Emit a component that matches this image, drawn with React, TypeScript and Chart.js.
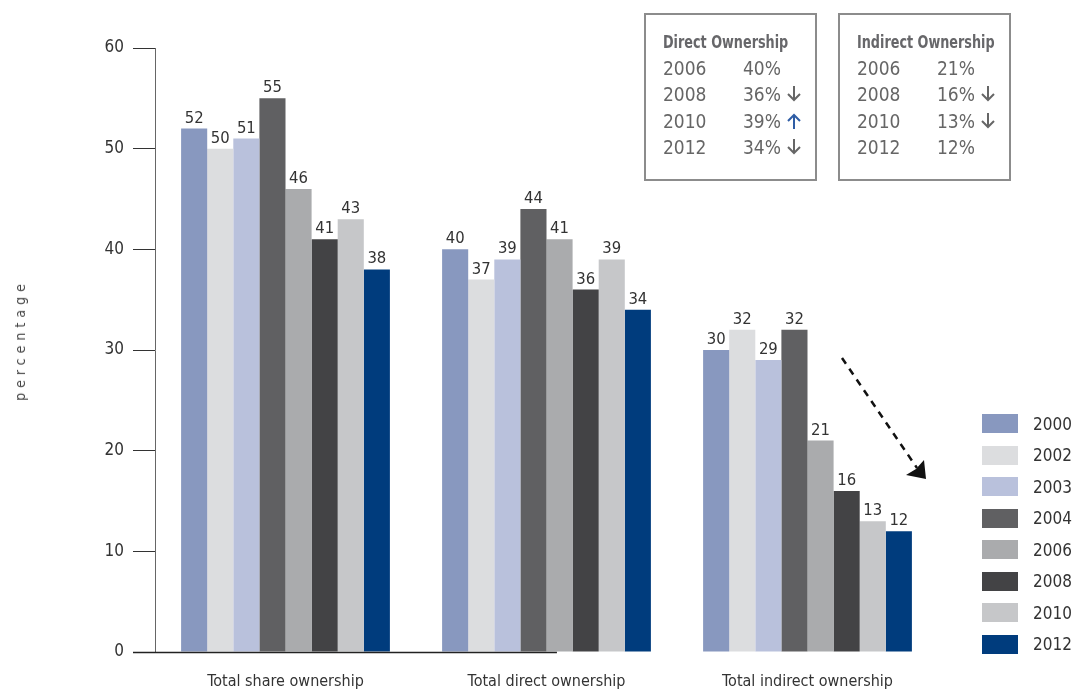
import React, { useEffect, useRef } from "react";
import { Chart, registerables } from "chart.js";

Chart.register(...registerables);

const categories = ["Total share ownership", "Total direct ownership", "Total indirect ownership"];
const years = ["2000", "2002", "2003", "2004", "2006", "2008", "2010", "2012"];
const s2000 = [52, 40, 30];
const s2002 = [50, 37, 32];
const s2003 = [51, 39, 29];
const s2004 = [55, 44, 32];
const s2006 = [46, 41, 21];
const s2008 = [41, 36, 16];
const s2010 = [43, 39, 13];
const s2012 = [38, 34, 12];
const seriesValues = [s2000, s2002, s2003, s2004, s2006, s2008, s2010, s2012];
const colors = ["#8898bf", "#dcdddf", "#b9c1dc", "#606062", "#aaabad", "#434345", "#c6c7c9", "#003c7d"];
const yTicks = [0, 10, 20, 30, 40, 50, 60];

const directYears = ["2006", "2008", "2010", "2012"];
const directValues = ["40%", "36%", "39%", "34%"];
const directTrend = ["", "down", "up", "down"];
const indirectYears = ["2006", "2008", "2010", "2012"];
const indirectValues = ["21%", "16%", "13%", "12%"];
const indirectTrend = ["", "down", "down", ""];

const FONT = "'Liberation Sans Narrow', 'DejaVu Sans Condensed', 'Roboto', sans-serif";

const labelPlugin = {
  id: "barLabels",
  afterDatasetsDraw(chart: any) {
    const ctx = chart.ctx;
    ctx.save();
    ctx.font = `16.5px ${FONT}`;
    ctx.fillStyle = "#333";
    ctx.textAlign = "center";
    ctx.textBaseline = "bottom";
    chart.data.datasets.forEach((ds: any, i: number) => {
      const meta = chart.getDatasetMeta(i);
      meta.data.forEach((bar: any, j: number) => {
        ctx.fillText(String(ds.data[j]), bar.x, bar.y - 2);
      });
    });
    ctx.restore();
  },
};

const axisPlugin = {
  id: "xAxisLine",
  afterDraw(chart: any) {
    const ctx = chart.ctx;
    const x = chart.scales.x;
    const y = chart.scales.y;
    const y0 = Math.round(y.getPixelForValue(0)) + 0.5;
    const end = x.getPixelForValue(1) + (x.getPixelForValue(2) - x.getPixelForValue(1)) * 0.04;
    ctx.save();
    ctx.strokeStyle = "#222";
    ctx.lineWidth = 1.5;
    ctx.beginPath();
    ctx.moveTo(chart.chartArea.left - 22, y0);
    ctx.lineTo(end, y0);
    ctx.stroke();
    ctx.restore();
  },
};

function Arrow({ dir }: { dir: string }) {
  if (!dir) return null;
  const color = dir === "up" ? "#2f5da5" : "#666";
  const path = dir === "up" ? "M8 17 V3 M2 9 L8 3 L14 9" : "M8 1 V15 M2 9 L8 15 L14 9";
  return (
    <svg width="16" height="18" style={{ marginLeft: 5, verticalAlign: "-2px" }}>
      <path d={path} stroke={color} strokeWidth="2" fill="none" />
    </svg>
  );
}

function InfoBox({ left, title, yrs, vals, trend }: any) {
  return (
    <div
      style={{
        position: "absolute",
        left,
        top: 13,
        width: 173,
        height: 168,
        border: "2px solid #8c8c8c",
        boxSizing: "border-box",
        fontFamily: FONT,
        color: "#666",
      }}
    >
      <div
        style={{
          position: "absolute",
          left: 17,
          top: 16,
          fontSize: 18,
          fontWeight: "bold",
          color: "#67676a",
          whiteSpace: "nowrap",
          transform: "scaleX(0.79)",
          transformOrigin: "left center",
        }}
      >
        {title}
      </div>
      {yrs.map((yr: string, i: number) => (
        <div key={yr} style={{ position: "absolute", left: 17, top: 42 + i * 26.3, fontSize: 19, whiteSpace: "nowrap", lineHeight: "22px" }}>
          <span style={{ display: "inline-block", width: 80 }}>{yr}</span>
          <span>{vals[i]}</span>
          <Arrow dir={trend[i]} />
        </div>
      ))}
    </div>
  );
}

export default function App() {
  const ref = useRef<HTMLCanvasElement | null>(null);
  useEffect(() => {
    if (!ref.current) return;
    const chart = new Chart(ref.current, {
      type: "bar",
      data: {
        labels: categories,
        datasets: years.map((yr, i) => ({
          label: yr,
          data: seriesValues[i],
          backgroundColor: colors[i],
          borderWidth: 0,
          barPercentage: 1,
          categoryPercentage: 0.8,
        })),
      },
      options: {
        animation: false,
        responsive: true,
        maintainAspectRatio: false,
        layout: { padding: { left: 0, right: 139, top: 48, bottom: 0 } },
        plugins: { legend: { display: false }, tooltip: { enabled: false } },
        scales: {
          x: {
            grid: { display: false },
            border: { display: false },
            ticks: { color: "#333", font: { family: FONT, size: 16 }, padding: 12, maxRotation: 0 },
            afterFit: (s: any) => {
              s.height = 37;
            },
          },
          y: {
            min: 0,
            max: 60,
            afterBuildTicks: (s: any) => {
              s.ticks = yTicks.map((v) => ({ value: v }));
            },
            grid: { drawOnChartArea: false, drawTicks: true, tickLength: 22, color: "#333", lineWidth: 1 },
            border: { display: true, color: "#666", width: 1 },
            ticks: { color: "#333", font: { family: FONT, size: 17 }, padding: 9 },
            afterFit: (s: any) => {
              s.width = 155;
            },
          },
        },
      },
      plugins: [labelPlugin, axisPlugin],
    });
    return () => chart.destroy();
  }, []);

  return (
    <div style={{ position: "absolute", left: 0, top: 0, width: 1077, height: 689, background: "#fff", overflow: "hidden" }}>
      <canvas ref={ref} />
      <div
        style={{
          position: "absolute",
          left: 20,
          top: 340,
          transform: "translate(-50%, -50%) rotate(-90deg)",
          fontFamily: FONT,
          fontSize: 14,
          letterSpacing: 5,
          color: "#444",
          whiteSpace: "nowrap",
        }}
      >
        percentage
      </div>
      <InfoBox left={644} title="Direct Ownership" yrs={directYears} vals={directValues} trend={directTrend} />
      <InfoBox left={838} title="Indirect Ownership" yrs={indirectYears} vals={indirectValues} trend={indirectTrend} />
      {years.map((yr, i) => (
        <div key={yr} style={{ position: "absolute", left: 982, top: 414 + i * 31.5, height: 19, display: "flex", alignItems: "center" }}>
          <div style={{ width: 36, height: 19, background: colors[i] }} />
          <div style={{ marginLeft: 15, fontFamily: FONT, fontSize: 17, color: "#333" }}>{yr}</div>
        </div>
      ))}
      <svg style={{ position: "absolute", left: 0, top: 0 }} width={1077} height={689}>
        <line x1={842} y1={358} x2={917} y2={468} stroke="#111" strokeWidth={2.5} strokeDasharray="7 6" />
        <polygon points="926,479 906,475 916,469 924,460" fill="#111" />
      </svg>
    </div>
  );
}
